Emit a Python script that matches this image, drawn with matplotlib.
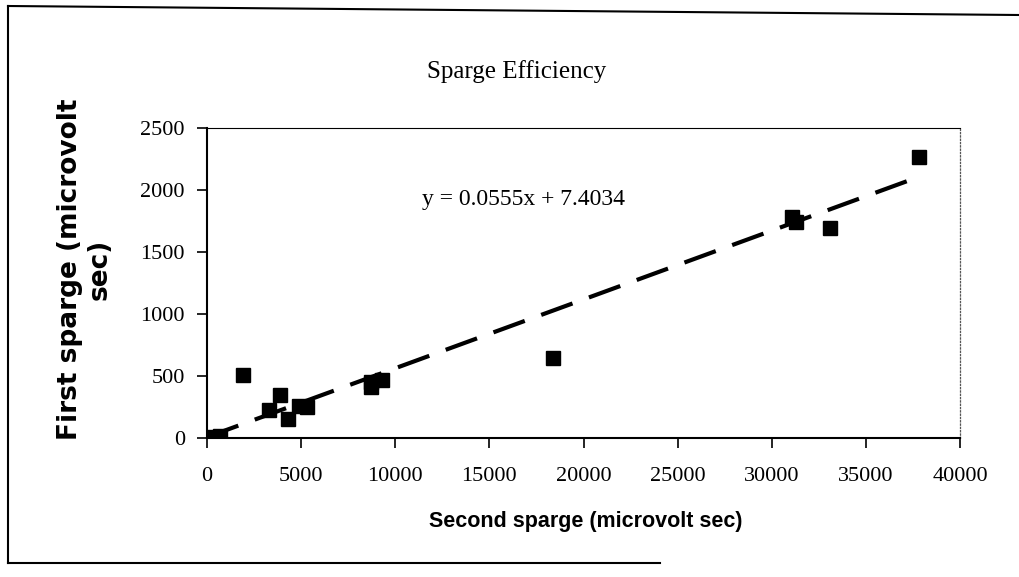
import numpy as np
import matplotlib.pyplot as plt
from matplotlib.lines import Line2D

# data
second_sparge = [300, 500, 700, 1900, 3300, 3900, 4300, 4900, 5300,
                 8700, 8700, 9300, 18400, 31100, 31300, 33100, 37800]
first_sparge = [10, 0, 20, 510, 225, 345, 150, 260, 250,
                410, 455, 470, 645, 1780, 1740, 1690, 2265]
slope = 0.0555
intercept = 7.4034
x_ticks = [0, 5000, 10000, 15000, 20000, 25000, 30000, 35000, 40000]
y_ticks = [0, 500, 1000, 1500, 2000, 2500]

W, H = 1019, 577
fig = plt.figure(figsize=(W / 100, H / 100), dpi=100)
ax = fig.add_axes([207 / W, 1 - 438 / H, (960 - 207) / W, (438 - 128) / H])

xa = np.array(second_sparge)
ya = np.array(first_sparge)
ax.plot(xa, ya, 's', color='black', markersize=10, zorder=3)

# excel style linear trendline
xl = np.array([0, xa.max()])
ax.plot(xl, slope * xl + intercept, color='black', lw=3,
        dashes=(8, 4.2), zorder=2)

ax.set_xlim(0, 40000)
ax.set_ylim(0, 2500)
ax.set_xticks(x_ticks)
ax.set_yticks(y_ticks)
ax.set_xticklabels([str(t) for t in x_ticks], family='Liberation Serif', fontsize=16)
ax.set_yticklabels([str(t) for t in y_ticks], family='Liberation Serif', fontsize=16)
ax.tick_params(direction='out', length=7, width=1.2, color='black', pad=9)
ax.tick_params(axis='x', pad=14)

for s in ['left', 'bottom']:
    ax.spines[s].set_linewidth(1.5)
ax.spines['top'].set_linewidth(0.8)
ax.spines['right'].set_linewidth(0.9)
ax.spines['right'].set_linestyle(':')
ax.spines['right'].set_color('#555555')

fig.text(517 / W, 1 - 72 / H, 'Sparge Efficiency', family='Liberation Serif',
         fontsize=18, ha='center', va='center')
fig.text(422 / W, 1 - 199 / H, 'y = 0.0555x + 7.4034',
         family='Liberation Serif', fontsize=17, ha='left', va='center')
fig.text(586 / W, 1 - 521 / H, 'Second sparge (microvolt sec)',
         family='Liberation Sans', weight='bold', fontsize=15.5,
         ha='center', va='center')
fig.text(85 / W, 1 - 269 / H, 'First sparge (microvolt\nsec)',
         family='DejaVu Sans', weight='bold', fontsize=19, rotation=90,
         ha='center', va='center', multialignment='center', linespacing=1.15)

# scanned page border
fig.add_artist(Line2D([8 / W, 1.0], [1 - 6 / H, 1 - 15 / H], color='black', lw=1.5))
fig.add_artist(Line2D([8 / W, 8 / W], [1 - 6 / H, 1 - 563 / H], color='black', lw=1.5))
fig.add_artist(Line2D([8 / W, 660 / W], [1 - 563 / H, 1 - 563 / H], color='black', lw=1.5))

fig.savefig('out.png', dpi=100)
